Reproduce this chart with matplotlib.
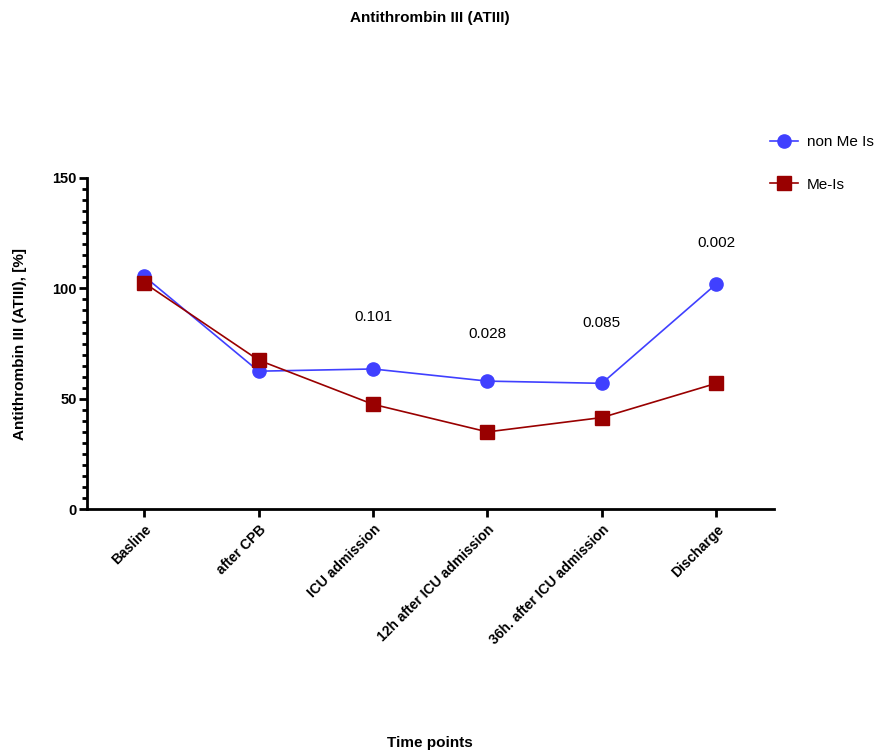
import matplotlib
matplotlib.use("Agg")
import matplotlib.pyplot as plt
from matplotlib.ticker import MultipleLocator

plt.rcParams['font.family'] = ['Liberation Sans', 'DejaVu Sans']

time_points = ["Basline", "after CPB", "ICU admission", "12h after ICU admission",
               "36h. after ICU admission", "Discharge"]
non_me_is = [105.5, 62.5, 63.5, 58.0, 57.0, 102.0]
me_is = [102.5, 67.5, 47.5, 35.0, 41.5, 57.0]
p_labels = ["0.101", "0.028", "0.085", "0.002"]
p_idx = [2, 3, 4, 5]
p_y = [87, 79.5, 84.5, 120.5]

fig = plt.figure(figsize=(8.75, 7.51), dpi=100)
ax = fig.add_axes([0.0994, 0.322, 0.7846, 0.441])

x = range(len(time_points))
ax.plot(x, non_me_is, color='#4040FF', lw=1.2, marker='o', ms=9.5, label='non Me Is')
ax.plot(x, me_is, color='#990000', lw=1.2, marker='s', ms=9.5, label='Me-Is')

for i, lab, yy in zip(p_idx, p_labels, p_y):
    ax.text(i, yy, lab, ha='center', va='center', fontsize=11)

ax.set_xlim(-0.5, 5.5)
ax.set_ylim(0, 150)
ax.set_yticks([0, 50, 100, 150])
ax.yaxis.set_minor_locator(MultipleLocator(5))
ax.set_xticks(list(x))
ax.set_xticklabels(time_points, rotation=45, ha='right', rotation_mode='anchor',
                   fontweight='bold', fontsize=10)
for t in ax.get_yticklabels():
    t.set_fontweight('bold')
    t.set_fontsize(10.5)

for s in ['top', 'right']:
    ax.spines[s].set_visible(False)
for s in ['left', 'bottom']:
    ax.spines[s].set_linewidth(2)
ax.tick_params(which='major', width=2, length=6)
ax.tick_params(axis='y', which='major', pad=1.5)
ax.tick_params(which='minor', width=2, length=3.5)

ax.set_ylabel("Antithrombin III (ATIII), [%]", fontweight='bold', fontsize=11, labelpad=18)
fig.text(0.4915, 1 - 743 / 751, "Time points", ha='center', va='center',
         fontweight='bold', fontsize=11)
fig.text(0.4915, 1 - 18 / 751, "Antithrombin III (ATIII)", ha='center', va='center',
         fontweight='bold', fontsize=11)

ax.legend(loc='upper left', bbox_to_anchor=(0.975, 1.17), frameon=False,
          fontsize=11, handlelength=1.8, handletextpad=0.6, labelspacing=1.85)

fig.savefig("out.png", dpi=100)
